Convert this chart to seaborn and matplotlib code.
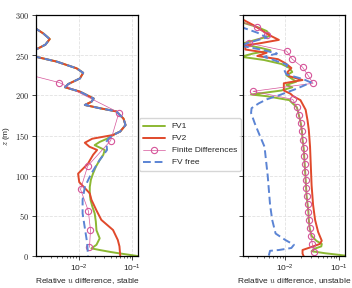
import numpy as np
import matplotlib
matplotlib.use("Agg")
import matplotlib.pyplot as plt
import seaborn as sns
from matplotlib.ticker import FuncFormatter

## Data (z in m, relative u difference)
# stable case - the three FV curves share the upper part
z_top_s = [295, 283, 277, 270, 263, 257, 253, 248, 242, 233.6, 228, 221, 214, 210,
           204.6, 196, 192, 188, 184, 180, 171, 163, 155, 150.6]
x_top_s = [1.0e-3, 1.6e-3, 2.2e-3, 2.9e-3, 2.4e-3, 1.6e-3, 1.0e-3, 1.6e-3, 3.9e-3, 9.2e-3,
           0.0122, 0.0106, 6.4e-3, 5.6e-3, 0.0106, 0.0192, 0.0174, 0.0131, 0.0248, 0.0506,
           0.069, 0.0753, 0.060, 0.0439]

z_fv1_s = [146, 142, 138, 132, 126, 119.5, 111, 103, 95, 86, 78, 70, 62, 53, 43, 32, 22,
           14, 9.5, 7.5, 5, 3.3, 0]
x_fv1_s = [0.034, 0.0248, 0.020, 0.0308, 0.029, 0.0248, 0.021, 0.0187, 0.017, 0.0162,
           0.0162, 0.0167, 0.018, 0.020, 0.021, 0.0216, 0.0248, 0.0216, 0.0174, 0.0248,
           0.040, 0.058, 0.127]

z_fv2_s = [146, 141, 136, 132, 126, 115, 102.5, 92, 78, 70, 57, 45, 32.4, 20, 12, 0]
x_fv2_s = [0.018, 0.0131, 0.016, 0.0222, 0.0187, 0.015, 0.0098, 0.0103, 0.0162, 0.0174,
           0.0215, 0.0266, 0.044, 0.054, 0.058, 0.060]

z_free_s = [146, 142, 132, 119.5, 103, 86, 70, 53, 32, 16, 0]
x_free_s = [0.036, 0.033, 0.034, 0.0248, 0.0174, 0.0131, 0.0119, 0.0119, 0.0133, 0.0145,
            0.0150]

z_fd_s = [10.8, 32.4, 56.4, 83, 112, 143.6, 178.4, 215.8, 256]
x_fd_s = [0.0160, 0.0167, 0.0152, 0.0109, 0.0148, 0.0397, 0.0566, 4.4e-3, 2e-5]

# unstable case
z_fv1_u = [295, 290, 285, 280, 274, 269, 264, 259, 256, 252, 248, 244, 239, 234, 229,
           225, 221, 217, 213, 210, 206, 201, 199, 194, 190, 185, 175, 165, 155, 145,
           135, 125, 115, 105, 95, 85, 75, 65, 55, 45, 35, 25, 19, 15, 12, 9, 6, 3.5,
           1.5, 0]
x_fv1_u = [1.0e-3, 1.7e-3, 3.0e-3, 4.5e-3, 5.3e-3, 2.8e-3, 1.5e-3, 3.5e-3, 5.3e-3,
           2.5e-3, 1.5e-3, 4.0e-3, 8.5e-3, 0.012, 0.0135, 0.0105, 0.013, 0.016, 0.0105,
           0.0135, 0.0085, 2.3e-3, 4.4e-3, 0.0119, 0.0137, 0.0165, 0.018, 0.0195, 0.0205,
           0.021, 0.022, 0.0225, 0.023, 0.0235, 0.024, 0.0245, 0.025, 0.026, 0.027, 0.0275,
           0.0285, 0.031, 0.038, 0.048, 0.047, 0.035, 0.031, 0.055, 0.10, 0.15]

z_fv2_u = [295, 293.5, 287, 281, 275, 269, 265, 262, 257, 253, 249, 245, 240, 234, 229,
           224, 219, 215, 211, 206, 202, 199, 194, 182, 169, 157, 136, 88, 64, 45, 30,
           19, 15, 11, 7.5, 3, 0]
x_fv2_u = [1.0e-3, 1.7e-3, 2.6e-3, 3.6e-3, 5.0e-3, 7.6e-3, 3.5e-3, 1.8e-3, 1.8e-3,
           4.5e-3, 3.0e-3, 7.3e-3, 0.010, 0.013, 0.011, 0.0116, 0.021, 0.0094, 0.0094,
           0.0094, 0.0125, 0.014, 0.0192, 0.024, 0.026, 0.0275, 0.029, 0.031, 0.033,
           0.036, 0.041, 0.048, 0.044, 0.030, 0.021, 0.021, 0.022]

z_free_u = [295, 285, 278, 272, 267, 262, 257, 252, 248, 244, 238, 232, 226, 220, 216,
            212, 208, 204, 200, 195, 190, 184, 178, 165, 153, 136, 100, 64, 45, 28, 20,
            14, 10, 7.5, 6.5, 0]
x_free_u = [1.0e-3, 1.5e-3, 3.0e-3, 4.5e-3, 2.5e-3, 1.4e-3, 3.5e-3, 7.0e-3, 4.0e-3,
            6.0e-3, 0.011, 0.0095, 0.0105, 0.022, 0.030, 0.022, 0.016, 0.011, 7.6e-3,
            4.5e-3, 3.2e-3, 2.35e-3, 2.3e-3, 2.7e-3, 3.2e-3, 4.1e-3, 4.7e-3, 5.2e-3,
            5.7e-3, 6.6e-3, 0.010, 0.0145, 0.013, 7.6e-3, 5.2e-3, 4.9e-3]

z_fd_u = [5, 15, 25, 35, 45, 55, 65, 75, 85, 95, 105, 115, 125, 135, 145, 155, 165, 175,
          185, 195, 205, 215, 225, 235, 245, 255, 265, 275, 285, 295]
x_fd_u = [0.034, 0.032, 0.030, 0.0285, 0.0275, 0.027, 0.026, 0.025, 0.0245, 0.024,
          0.0235, 0.023, 0.0225, 0.022, 0.021, 0.0205, 0.0195, 0.018, 0.0165, 0.0138,
          0.0025, 0.033, 0.0265, 0.021, 0.0135, 0.0106, 0.0021, 0.0046, 0.0030, 0.0010]

## Style
sns.set_style("ticks", {"axes.grid": True, "grid.linestyle": "--", "grid.color": "#e2e2e2",
                        "axes.edgecolor": "black"})
plt.rcParams['font.family'] = ['Liberation Sans', 'DejaVu Sans']
plt.rcParams['mathtext.fontset'] = 'cm'
plt.rcParams['font.size'] = 6

c_fv1 = '#8cb832'
c_fv2 = '#e0492b'
c_fd = '#d6559a'
c_free = '#5b84d4'


def draw_panel(ax, z_fv1, x_fv1, z_fv2, x_fv2, z_fd, x_fd, z_free, x_free):
    sns.lineplot(x=x_fv1, y=z_fv1, ax=ax, orient='y', sort=False, estimator=None,
                 color=c_fv1, lw=1.4, label='FV1', legend=False)
    sns.lineplot(x=x_fv2, y=z_fv2, ax=ax, orient='y', sort=False, estimator=None,
                 color=c_fv2, lw=1.4, label='FV2', legend=False)
    sns.lineplot(x=x_fd, y=z_fd, ax=ax, orient='y', sort=False, estimator=None,
                 color=c_fd, lw=0.5, marker='o', markersize=4.5, markerfacecolor='none',
                 markeredgecolor=c_fd, markeredgewidth=0.8, label='Finite Differences',
                 legend=False)
    sns.lineplot(x=x_free, y=z_free, ax=ax, orient='y', sort=False, estimator=None,
                 color=c_free, lw=1.4, linestyle=(0, (4, 2)), label='FV free', legend=False)


fig, axes = plt.subplots(1, 2, figsize=(3.52, 2.88), dpi=100, sharey=True, sharex=True)
plt.subplots_adjust(left=0.102, right=0.98, bottom=0.111, top=0.948, wspace=1.02)

# stable: upper part is common to the three FV runs
draw_panel(axes[0],
           z_top_s + z_fv1_s, x_top_s + x_fv1_s,
           z_top_s + z_fv2_s, x_top_s + x_fv2_s,
           z_fd_s, x_fd_s,
           z_top_s + z_free_s, x_top_s + x_free_s)
draw_panel(axes[1], z_fv1_u, x_fv1_u, z_fv2_u, x_fv2_u, z_fd_u, x_fd_u, z_free_u, x_free_u)

for ax in axes:
    ax.set_xscale('log')
    ax.set_xlim(1.6e-3, 0.13)
    ax.set_ylim(0, 300)
    ax.set_yticks(range(0, 301, 50))
    ax.grid(True, which='major', color='#e2e2e2', ls='--', lw=0.6)
    ax.tick_params(labelsize=6, length=3, width=0.6, pad=2)
    ax.tick_params(which='minor', length=1.5, width=0.5)
    for s in ax.spines.values():
        s.set_linewidth(0.9)

axes[0].yaxis.set_major_formatter(FuncFormatter(lambda v, p: '$%d$' % v))
axes[0].set_ylabel('$z$ (m)', fontsize=6, labelpad=2)
axes[1].set_ylabel('')
axes[0].set_xlabel('Relative $u$ difference, stable', fontsize=6, labelpad=1)
axes[1].set_xlabel('Relative $u$ difference, unstable', fontsize=6, labelpad=1)

handles, labels = axes[0].get_legend_handles_labels()
fig.legend(handles, labels, loc='center', bbox_to_anchor=(0.54, 0.498), fontsize=6,
           frameon=True, fancybox=True, edgecolor='#cccccc', handlelength=2.6,
           borderpad=0.5, labelspacing=0.5)

plt.savefig('out.png', dpi=100)
